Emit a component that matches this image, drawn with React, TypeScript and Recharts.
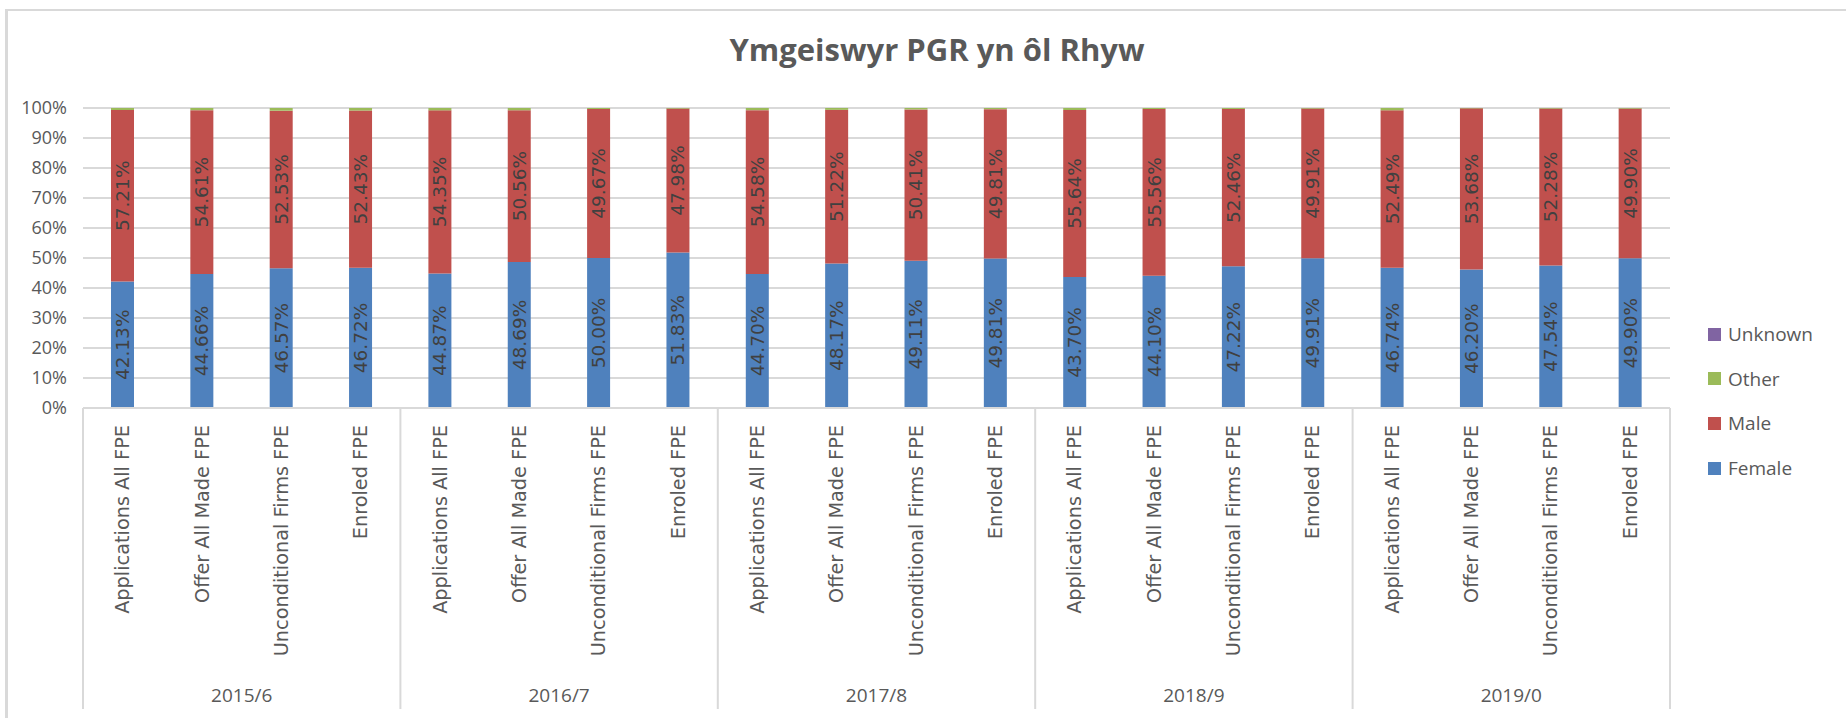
import React from "react";
import { BarChart, Bar, XAxis, YAxis, CartesianGrid, LabelList } from "recharts";

const years = ["2015/6", "2016/7", "2017/8", "2018/9", "2019/0"];
const stages = ["Applications All FPE", "Offer All Made FPE", "Unconditional Firms FPE", "Enroled FPE"];

const female = [
  42.13, 44.66, 46.57, 46.72,
  44.87, 48.69, 50.0, 51.83,
  44.7, 48.17, 49.11, 49.81,
  43.7, 44.1, 47.22, 49.91,
  46.74, 46.2, 47.54, 49.9,
];
const male = [
  57.21, 54.61, 52.53, 52.43,
  54.35, 50.56, 49.67, 47.98,
  54.58, 51.22, 50.41, 49.81,
  55.64, 55.56, 52.46, 49.91,
  52.49, 53.68, 52.28, 49.9,
];
const other = [
  0.66, 0.73, 0.9, 0.85,
  0.78, 0.75, 0.33, 0.19,
  0.72, 0.61, 0.48, 0.38,
  0.66, 0.34, 0.32, 0.18,
  0.77, 0.12, 0.18, 0.2,
];
const unknown = [
  0, 0, 0, 0,
  0, 0, 0, 0,
  0, 0, 0, 0,
  0, 0, 0, 0,
  0, 0, 0, 0,
];
const yTicks = [0, 10, 20, 30, 40, 50, 60, 70, 80, 90, 100];

const data = female.map((f, i) => ({
  key: `${years[Math.floor(i / 4)]}|${stages[i % 4]}`,
  stage: stages[i % 4],
  year: years[Math.floor(i / 4)],
  Female: f,
  Male: male[i],
  Other: other[i],
  Unknown: unknown[i],
}));

const W = 1846;
const H = 718;
const M = { top: 108, right: 176, left: 0, bottom: 0 };
const Y_W = 83;
const X1_H = 255;
const X2_H = 55;
const PLOT_W = W - M.left - M.right - Y_W;
const GRID = "#d9d9d9";
const TXT = "#595959";

const COLORS: Record<string, string> = {
  Female: "#4f81bd",
  Male: "#c0504d",
  Other: "#9bbb59",
  Unknown: "#8064a2",
};

const StageTick = (props: any) => {
  const { x, y, payload } = props;
  const ty = y + 17;
  return (
    <text
      x={x}
      y={ty}
      transform={`rotate(-90, ${x}, ${ty})`}
      textAnchor="end"
      dominantBaseline="central"
      fontFamily="'DejaVu Sans', Verdana, sans-serif"
      fontSize={19.3}
      fill={TXT}
    >
      {payload.value}
    </text>
  );
};

const YearTick = (props: any) => {
  const { x, y, payload, index, visibleTicksCount } = props;
  const half =
    payload && typeof payload.offset === "number" && payload.offset > 0
      ? payload.offset
      : PLOT_W / (visibleTicksCount || years.length) / 2;
  const y1 = y - X1_H;
  const y2 = y + 46;
  return (
    <g>
      <line x1={x - half} x2={x - half} y1={y1} y2={y2} stroke={GRID} strokeWidth={2} />
      {index === (visibleTicksCount || years.length) - 1 && (
        <line x1={x + half} x2={x + half} y1={y1} y2={y2} stroke={GRID} strokeWidth={2} />
      )}
      <text
        x={x}
        y={y + 32}
        textAnchor="middle"
        dominantBaseline="central"
        fontFamily="'Open Sans', sans-serif"
        fontSize={19}
        fill={TXT}
      >
        {payload.value}
      </text>
    </g>
  );
};

const SegLabel = (props: any) => {
  const { x, y, width, height, value } = props;
  if (value == null) return null;
  const cx = x + width / 2;
  const cy = y + height / 2;
  return (
    <text
      x={cx}
      y={cy}
      transform={`rotate(-90, ${cx}, ${cy})`}
      textAnchor="middle"
      dominantBaseline="central"
      fontFamily="'DejaVu Sans', Verdana, sans-serif"
      fontSize={18.5}
      fill="#404040"
    >
      {Number(value).toFixed(2)}%
    </text>
  );
};

const legendItems = ["Unknown", "Other", "Male", "Female"];

export default function App() {
  return (
    <div
      style={{
        position: "fixed",
        left: 0,
        top: 0,
        width: W,
        height: H,
        overflow: "hidden",
        background: "#fff",
      }}
    >
      <div
        style={{
          position: "absolute",
          left: 0,
          top: 34,
          width: 1874,
          textAlign: "center",
          fontFamily: "'Open Sans', sans-serif",
          fontWeight: 700,
          fontSize: 31,
          lineHeight: "31px",
          color: TXT,
        }}
      >
        Ymgeiswyr PGR yn ôl Rhyw
      </div>
      <div style={{ position: "absolute", left: 0, top: 0 }}>
        <BarChart width={W} height={H} data={data} margin={M} barSize={23}>
          <CartesianGrid vertical={false} stroke={GRID} strokeWidth={2} />
          <YAxis
            type="number"
            domain={[0, 100]}
            ticks={yTicks}
            width={Y_W}
            axisLine={false}
            tickLine={false}
            tickSize={0}
            tickMargin={16}
            tickFormatter={(v: number) => `${v}%`}
            tick={{ fontFamily: "'Open Sans', sans-serif", fontSize: 18, fill: TXT }}
          />
          <XAxis
            xAxisId={0}
            dataKey="key"
            height={X1_H}
            interval={0}
            axisLine={{ stroke: GRID, strokeWidth: 2 }}
            tickLine={false}
            tickSize={0}
            tickMargin={0}
            tick={(p: any) => <StageTick {...p} payload={{ ...p.payload, value: String(p.payload.value).split("|")[1] }} />}
          />
          <XAxis
            xAxisId="year"
            dataKey="year"
            allowDuplicatedCategory={false}
            height={X2_H}
            interval={0}
            axisLine={false}
            tickLine={false}
            tickSize={0}
            tickMargin={0}
            tick={<YearTick />}
          />
          <Bar dataKey="Female" stackId="a" fill={COLORS.Female} isAnimationActive={false}>
            <LabelList dataKey="Female" content={<SegLabel />} />
          </Bar>
          <Bar dataKey="Male" stackId="a" fill={COLORS.Male} isAnimationActive={false}>
            <LabelList dataKey="Male" content={<SegLabel />} />
          </Bar>
          <Bar dataKey="Other" stackId="a" fill={COLORS.Other} isAnimationActive={false} />
          <Bar dataKey="Unknown" stackId="a" fill={COLORS.Unknown} isAnimationActive={false} />
        </BarChart>
      </div>
      {legendItems.map((name, i) => (
        <div
          key={name}
          style={{
            position: "absolute",
            left: 1708,
            top: 334 + i * 44.7 - 14,
            height: 28,
            display: "flex",
            alignItems: "center",
            fontFamily: "'Open Sans', sans-serif",
            fontSize: 19,
            color: TXT,
          }}
        >
          <span
            style={{
              display: "inline-block",
              width: 13,
              height: 13,
              background: COLORS[name],
              marginRight: 7,
            }}
          />
          {name}
        </div>
      ))}
      <div
        style={{
          position: "absolute",
          left: 5,
          top: 9,
          width: 3,
          height: H,
          background: GRID,
          pointerEvents: "none",
        }}
      />
      <div
        style={{
          position: "absolute",
          left: 5,
          top: 9,
          width: W,
          height: 2,
          background: GRID,
          pointerEvents: "none",
        }}
      />
    </div>
  );
}
